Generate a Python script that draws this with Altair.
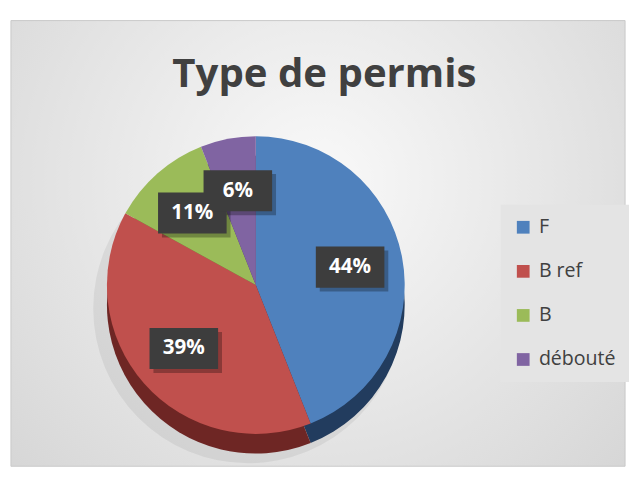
import altair as alt
import pandas as pd

# ---- data ----
categories = ["F", "B ref", "B", "débouté"]
values = [44, 39, 11, 6]
title_text = "Type de permis"

# ---- styles ----
top_colors = ["#4f81bd", "#c0504d", "#9bbb59", "#8064a2"]
side_colors = ["#223c5e", "#6e2624", "#5b7531", "#4a3963"]
text_color = "#404040"
font = "Open Sans"

W, H = 627, 455
CX, CY, R, DEPTH = 250, 270, 152, 20
LR = 98           # label distance from centre
BW, BH = 70, 42   # label box size

df = pd.DataFrame({"cat": categories, "value": values, "idx": list(range(len(values)))})
one = pd.DataFrame({"a": [0]})

bg = alt.Chart(one).mark_rect(
    fill=alt.RadialGradient(
        gradient="radial", x1=0.5, y1=0.4, r1=0, x2=0.5, y2=0.4, r2=0.75,
        stops=[alt.GradientStop(color="#f9f9f9", offset=0),
               alt.GradientStop(color="#d3d3d3", offset=1)]),
    stroke="#c9c9c9", strokeWidth=1,
).encode(x=alt.value(0), x2=alt.value("width"), y=alt.value(0), y2=alt.value("height"))

title = alt.Chart(one).mark_text(
    font=font, fontSize=41, fontWeight="bold", color=text_color,
    align="center", baseline="alphabetic",
).encode(x=alt.value(320), y=alt.value(68), text=alt.value(title_text))

shadow = alt.Chart(one).mark_arc(radius=R + 6, color="#000000", opacity=0.06).encode(
    theta=alt.value(6.2832), x=alt.value(CX - 8), y=alt.value(CY + DEPTH + 4)
)

base = alt.Chart(df)

side = base.mark_arc(radius=R, strokeWidth=0).encode(
    theta=alt.Theta("value:Q", stack=True),
    order=alt.Order("idx:Q"),
    color=alt.Color("cat:N", scale=alt.Scale(domain=categories, range=side_colors), legend=None),
    x=alt.value(CX), y=alt.value(CY + DEPTH),
)

top = base.mark_arc(radius=R, strokeWidth=0).encode(
    theta=alt.Theta("value:Q", stack=True),
    order=alt.Order("idx:Q"),
    color=alt.Color(
        "cat:N", sort=categories,
        scale=alt.Scale(domain=categories, range=top_colors),
        legend=alt.Legend(
            title=None, orient="none", legendX=500, legendY=188,
            symbolType="square", symbolSize=169, symbolStrokeWidth=0,
            labelFont=font, labelFontSize=20, labelColor=text_color,
            labelOffset=6, rowPadding=25, padding=13,
            fillColor="#e4e4e4",
        ),
    ),
    x=alt.value(CX), y=alt.value(CY),
)

lab = base.transform_joinaggregate(total="sum(value)").transform_window(
    cum="sum(value)", sort=[alt.SortField("idx")], frame=[None, 0]
).transform_calculate(
    ang="2*PI*(datum.cum - datum.value/2)/datum.total",
).transform_calculate(
    lx=f"{CX} + {LR}*sin(datum.ang)",
    ly=f"{CY} - {LR}*cos(datum.ang)",
    pct="format(datum.value/datum.total, '.0%')",
).transform_calculate(
    bx1=f"datum.lx - {BW/2}", bx2=f"datum.lx + {BW/2}",
    by1=f"datum.ly - {BH/2}", by2=f"datum.ly + {BH/2}",
    sx1=f"datum.lx - {BW/2} + 4", sx2=f"datum.lx + {BW/2} + 4",
    sy1=f"datum.ly - {BH/2} + 4", sy2=f"datum.ly + {BH/2} + 4",
)

box_shadow = lab.mark_rect(color="#000000", opacity=0.28).encode(
    x=alt.X("sx1:Q", scale=None, axis=None), x2="sx2:Q",
    y=alt.Y("sy1:Q", scale=None, axis=None), y2="sy2:Q",
)
box = lab.mark_rect(color="#3d3d3d").encode(
    x=alt.X("bx1:Q", scale=None, axis=None), x2="bx2:Q",
    y=alt.Y("by1:Q", scale=None, axis=None), y2="by2:Q",
)
txt = lab.mark_text(
    font=font, fontSize=21, fontWeight="bold", color="#ffffff",
    align="center", baseline="middle",
).encode(
    x=alt.X("lx:Q", scale=None, axis=None),
    y=alt.Y("ly:Q", scale=None, axis=None),
    text="pct:N",
)

chart = alt.layer(bg, shadow, side, top, box_shadow, box, txt, title).resolve_scale(
    color="independent"
).properties(
    width=W, height=H,
    padding={"left": 2, "top": 7, "right": 0, "bottom": 0},
    background="#ffffff",
).configure_view(stroke=None)

chart.save("out.html", embed_options={"renderer": "svg", "actions": False})
